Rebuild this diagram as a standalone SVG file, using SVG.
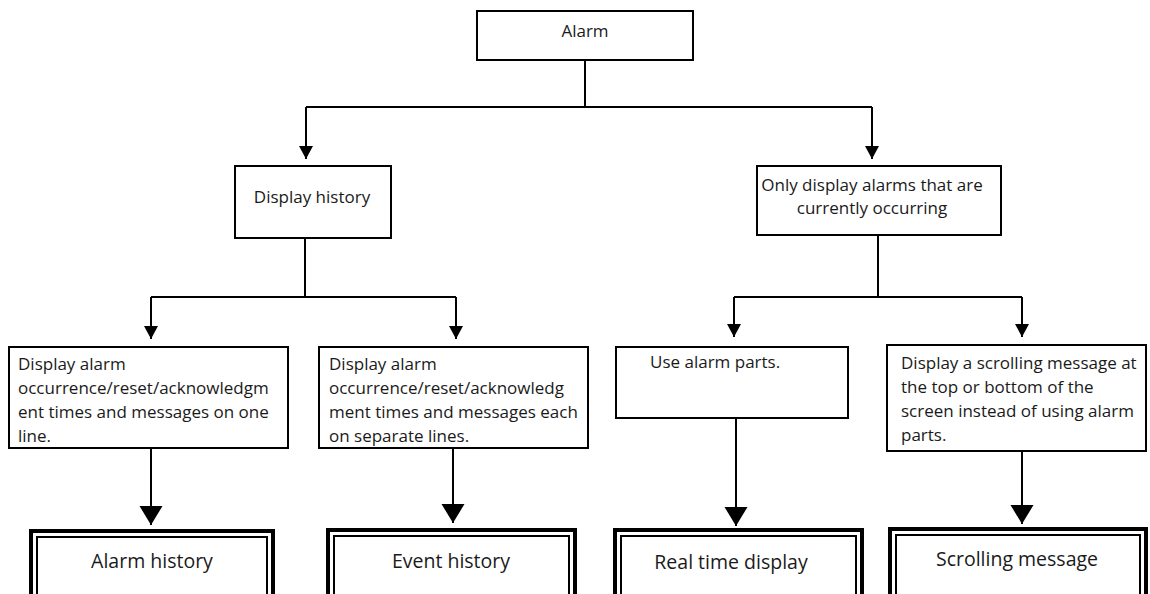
<svg xmlns="http://www.w3.org/2000/svg" width="1150" height="594" viewBox="0 0 1150 594">
  <style>
    .box { fill: #fff; stroke: #000; stroke-width: 2; }
    .outer { fill: #fff; stroke: #000; stroke-width: 4; }
    .inner { fill: none; stroke: #000; stroke-width: 2; }
    .wire { fill: none; stroke: #000; stroke-width: 2; }
    text { font-family: "Open Sans", "Noto Sans", "DejaVu Sans", sans-serif; fill: #1a1a1a; }
    .t { font-size: 17px; }
    .c { text-anchor: middle; }
    .big { font-size: 19.5px; text-anchor: middle; }
  </style>
  <defs>
    <marker id="arrowSmall" markerUnits="userSpaceOnUse" markerWidth="14" markerHeight="14" refX="13" refY="7" orient="auto">
      <path d="M0,0 L13,7 L0,14 z" fill="#000"/>
    </marker>
    <marker id="arrowBig" markerUnits="userSpaceOnUse" markerWidth="20" markerHeight="24" refX="19" refY="11.5" orient="auto">
      <path d="M0,0 L19,11.5 L0,23 z" fill="#000"/>
    </marker>
  </defs>

  <!-- connectors -->
  <g id="connectors">
    <path class="wire" d="M585,60 V107"/>
    <path class="wire" d="M306,107 H872"/>
    <path class="wire" d="M306,107 V159" marker-end="url(#arrowSmall)"/>
    <path class="wire" d="M872,107 V159" marker-end="url(#arrowSmall)"/>

    <path class="wire" d="M305,238 V297 M151,297 H456"/>
    <path class="wire" d="M151,297 V339" marker-end="url(#arrowSmall)"/>
    <path class="wire" d="M456,297 V339" marker-end="url(#arrowSmall)"/>

    <path class="wire" d="M878,235 V297 M734,297 H1022"/>
    <path class="wire" d="M734,297 V337" marker-end="url(#arrowSmall)"/>
    <path class="wire" d="M1022,297 V337" marker-end="url(#arrowSmall)"/>

    <path class="wire" d="M151,448 V525" marker-end="url(#arrowBig)"/>
    <path class="wire" d="M453,448 V523" marker-end="url(#arrowBig)"/>
    <path class="wire" d="M736,418 V526" marker-end="url(#arrowBig)"/>
    <path class="wire" d="M1022,451 V524" marker-end="url(#arrowBig)"/>
  </g>

  <g id="alarm">
    <rect class="box" x="477" y="11" width="216" height="49"/>
    <text class="t c" x="585" y="37">Alarm</text>
  </g>

  <g id="display-history">
    <rect class="box" x="235" y="166" width="156" height="72"/>
    <text class="t c" x="312" y="203">Display history</text>
  </g>

  <g id="current-only">
    <rect class="box" x="757" y="166" width="244" height="69"/>
    <text class="t c" x="872" y="191">Only display alarms that are</text>
    <text class="t c" x="872" y="214">currently occurring</text>
  </g>

  <g id="one-line">
    <rect class="box" x="9" y="347" width="279" height="101"/>
    <text class="t" x="18" y="370">Display alarm</text>
    <text class="t" x="18" y="394">occurrence/reset/acknowledgm</text>
    <text class="t" x="18" y="418">ent times and messages on one</text>
    <text class="t" x="18" y="442">line.</text>
  </g>

  <g id="separate-lines">
    <rect class="box" x="319" y="347" width="269" height="101"/>
    <text class="t" x="329" y="370">Display alarm</text>
    <text class="t" x="329" y="394">occurrence/reset/acknowledg</text>
    <text class="t" x="329" y="418">ment times and messages each</text>
    <text class="t" x="329" y="442">on separate lines.</text>
  </g>

  <g id="alarm-parts">
    <rect class="box" x="616" y="347" width="232" height="71"/>
    <text class="t" x="650" y="368">Use alarm parts.</text>
  </g>

  <g id="scroll-choice">
    <rect class="box" x="887" y="345" width="259" height="106"/>
    <text class="t" x="901" y="369">Display a scrolling message at</text>
    <text class="t" x="901" y="393">the top or bottom of the</text>
    <text class="t" x="901" y="417">screen instead of using alarm</text>
    <text class="t" x="901" y="441">parts.</text>
  </g>

  <g id="alarm-history">
    <rect class="outer" x="31" y="531" width="242" height="90"/>
    <rect class="inner" x="37" y="537" width="230" height="80"/>
    <text class="big" x="152" y="568">Alarm history</text>
  </g>

  <g id="event-history">
    <rect class="outer" x="328" y="530" width="247" height="90"/>
    <rect class="inner" x="334" y="536" width="235" height="80"/>
    <text class="big" x="451" y="568">Event history</text>
  </g>

  <g id="real-time-display">
    <rect class="outer" x="615" y="530" width="247" height="90"/>
    <rect class="inner" x="621" y="536" width="235" height="80"/>
    <text class="big" x="731" y="569">Real time display</text>
  </g>

  <g id="scrolling-message">
    <rect class="outer" x="890" y="529" width="256" height="90"/>
    <rect class="inner" x="896" y="535" width="244" height="80"/>
    <text class="big" x="1017" y="566">Scrolling message</text>
  </g>
</svg>
